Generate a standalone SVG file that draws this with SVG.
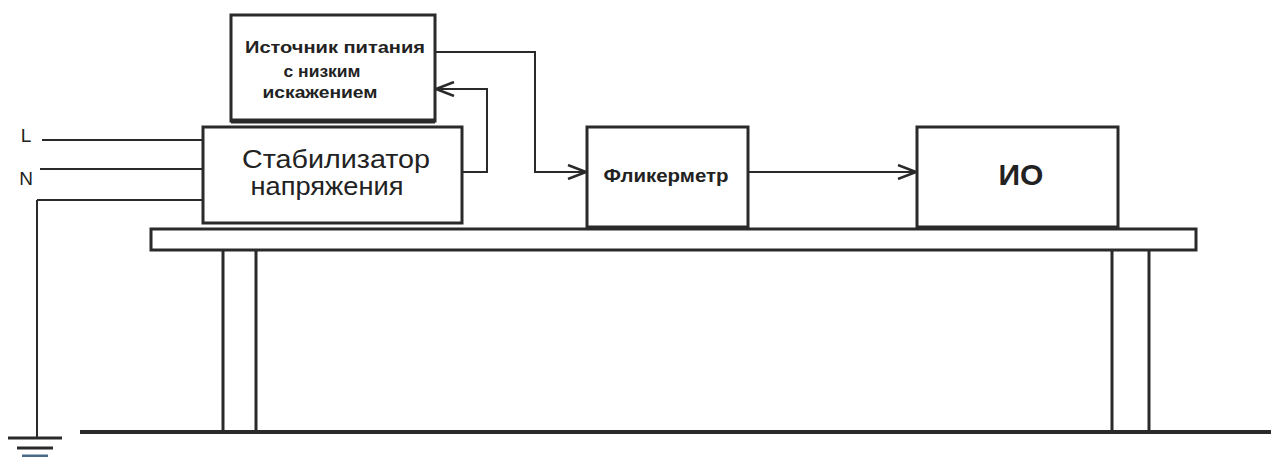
<svg xmlns="http://www.w3.org/2000/svg" width="1271" height="457" viewBox="0 0 1271 457">
<defs>
<style>
.box{fill:#fff;stroke:#2a2a2a;stroke-width:3}
.ln{fill:none;stroke:#2a2a2a;stroke-width:2}
.leg{fill:none;stroke:#2a2a2a;stroke-width:3}
.t{font-family:"Liberation Sans",Arial,sans-serif;fill:#222;text-anchor:middle}
.b{font-weight:bold}
</style>
<marker id="arr" viewBox="0 0 20 16" refX="19" refY="8" markerWidth="20" markerHeight="16" markerUnits="userSpaceOnUse" orient="auto">
<path d="M1,1 L19,8 L1,15" fill="none" stroke="#2a2a2a" stroke-width="2.5"/>
</marker>
</defs>
<rect width="1271" height="457" fill="#fff"/>
<g id="table">
<rect x="151" y="229" width="1045" height="21" class="box"/>
<line x1="223" y1="250" x2="223" y2="432" class="leg"/>
<line x1="256" y1="250" x2="256" y2="432" class="leg"/>
<line x1="1112" y1="250" x2="1112" y2="432" class="leg"/>
<line x1="1149" y1="250" x2="1149" y2="432" class="leg"/>
<line x1="80" y1="432" x2="1271" y2="432" stroke="#2a2a2a" stroke-width="4"/>
</g>
<g id="ground">
<line x1="37" y1="200" x2="37" y2="438" class="ln"/>
<line x1="8" y1="438" x2="62" y2="438" stroke="#2a2a2a" stroke-width="3"/>
<line x1="17" y1="448" x2="53" y2="448" stroke="#2a2a2a" stroke-width="3"/>
<line x1="22" y1="456" x2="48" y2="456" stroke="#4a6a8a" stroke-width="3"/>
</g>
<g id="inputs">
<text x="26" y="142" class="t" font-size="19">L</text>
<text x="26" y="185" class="t" font-size="19">N</text>
</g>
<g id="connectors">
<line x1="42" y1="140" x2="203" y2="140" class="ln"/>
<line x1="40" y1="169" x2="203" y2="169" class="ln"/>
<polyline points="37,200 203,200" class="ln"/>
<polyline points="435,52 535,52 535,172 586,172" class="ln" marker-end="url(#arr)"/>
<polyline points="462,172 487,172 487,89 436,89" class="ln" marker-end="url(#arr)"/>
<line x1="748" y1="172" x2="916" y2="172" class="ln" marker-end="url(#arr)"/>
</g>
<g id="source">
<rect x="231" y="15" width="204" height="106" class="box"/>
<line x1="231" y1="121" x2="435" y2="121" stroke="#2a2a2a" stroke-width="5"/>
<text x="335" y="53" class="t b" font-size="16" textLength="180" lengthAdjust="spacingAndGlyphs">Источник питания</text>
<text x="322" y="77" class="t b" font-size="16" textLength="77" lengthAdjust="spacingAndGlyphs">с низким</text>
<text x="320" y="98" class="t b" font-size="16" textLength="115" lengthAdjust="spacingAndGlyphs">искажением</text>
</g>
<g id="stabilizer">
<rect x="203" y="127" width="259" height="96" class="box"/>
<text x="336" y="168" class="t" font-size="25" textLength="188" lengthAdjust="spacingAndGlyphs">Стабилизатор</text>
<text x="327" y="195" class="t" font-size="26" textLength="153" lengthAdjust="spacingAndGlyphs">напряжения</text>
</g>
<g id="flickermeter">
<rect x="587" y="127" width="161" height="100" class="box"/>
<text x="666" y="182" class="t b" font-size="18" textLength="125" lengthAdjust="spacingAndGlyphs">Фликерметр</text>
</g>
<g id="io">
<rect x="917" y="127" width="201" height="100" class="box"/>
<text x="1021" y="185" class="t b" font-size="30">ИО</text>
</g>
</svg>
